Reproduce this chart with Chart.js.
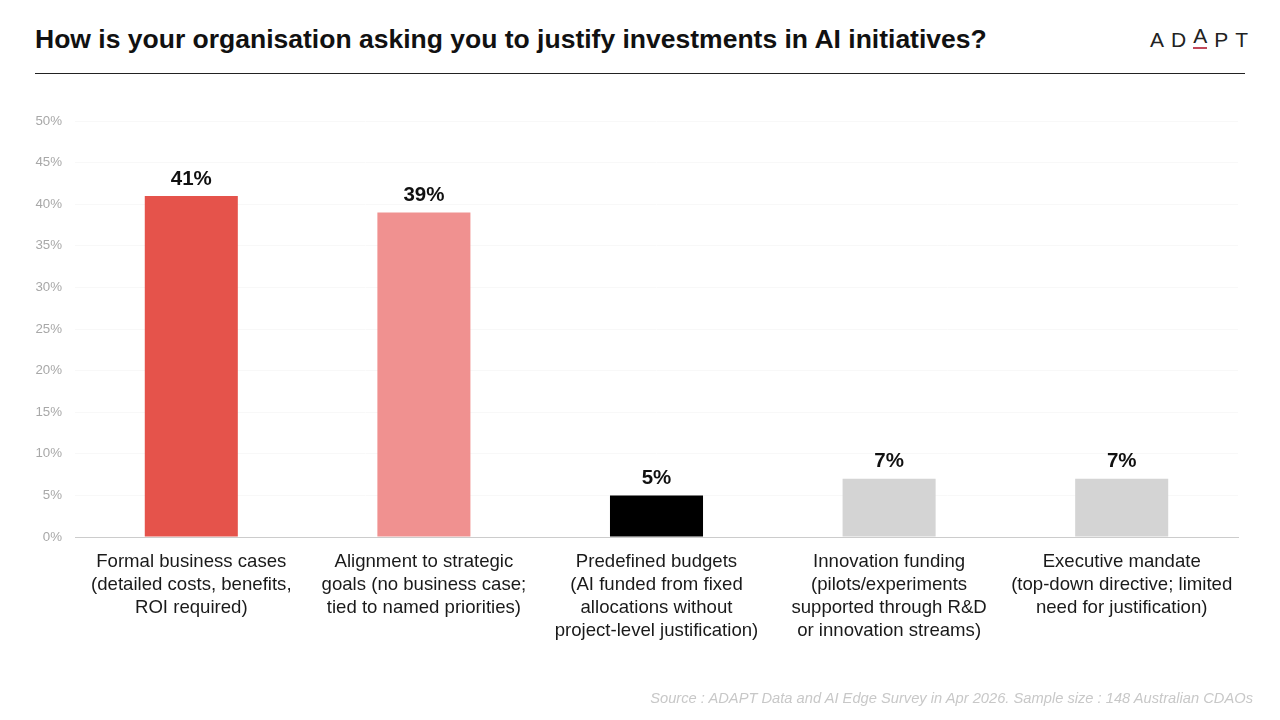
<!DOCTYPE html>
<html lang="en">
    <head>
        <meta charset="UTF-8" />
        <title>AI investment justification</title>
        <script src="https://cdn.jsdelivr.net/npm/chart.js"></script>
        <style>
            body {
                margin: 0;
                width: 1280px;
                height: 720px;
                background: #ffffff;
                font-family: 'Liberation Sans', Arial, sans-serif;
                position: relative;
                overflow: hidden;
            }

            h1 {
                position: absolute;
                left: 35px;
                top: 24px;
                margin: 0;
                font-size: 26.5px;
                font-weight: bold;
                color: #111;
            }

            .logo {
                position: absolute;
                left: 1150px;
                top: 28px;
                font-size: 21px;
                letter-spacing: 7px;
                color: #222;
            }

            .logo .mark {
                position: relative;
                top: -4px;
                border-bottom: 2px solid #c0485a;
                letter-spacing: 0;
                margin-right: 7px;
            }

            .rule {
                position: absolute;
                left: 35px;
                top: 73px;
                width: 1210px;
                border-top: 1.5px solid #222;
            }

            .source {
                position: absolute;
                right: 27px;
                top: 690px;
                font-size: 14.7px;
                font-style: italic;
                color: #c8c8c8;
            }

            .chart {
                position: absolute;
                left: 0;
                top: 0;
                width: 1280px;
                height: 720px;
            }
        </style>
    </head>
    <body>

        <h1>How is your organisation asking you to justify investments in AI initiatives?</h1>
        <div class="logo">AD<span class="mark">A</span>PT</div>
        <div class="rule"></div>

        <div class="chart"><canvas id="barChart"></canvas></div>

        <div class="source">Source : ADAPT Data and AI Edge Survey in Apr 2026. Sample size : 148 Australian CDAOs</div>

        <script>
	const categories = [
		['Formal business cases', '(detailed costs, benefits,', 'ROI required)'],
		['Alignment to strategic', 'goals (no business case;', 'tied to named priorities)'],
		['Predefined budgets', '(AI funded from fixed', 'allocations without', 'project-level justification)'],
		['Innovation funding', '(pilots/experiments', 'supported through R&D', 'or innovation streams)'],
		['Executive mandate', '(top-down directive; limited', 'need for justification)']
	];
	const shares = [41, 39, 5, 7, 7];
	const barColors = ['#e5534b', '#f09190', '#000000', '#d4d4d4', '#d4d4d4'];

	// value labels above the bars
	const valueLabels = {
		id: 'valueLabels',
		afterDatasetsDraw(chart) {
			const ctx = chart.ctx;
			const meta = chart.getDatasetMeta(0);
			ctx.save();
			ctx.font = 'bold 20.5px "Liberation Sans", Arial, sans-serif';
			ctx.fillStyle = '#111';
			ctx.textAlign = 'center';
			ctx.textBaseline = 'middle';
			meta.data.forEach((bar, i) => {
				ctx.fillText(shares[i] + '%', bar.x, bar.y - 17);
			});
			ctx.restore();
		}
	};

	new Chart(document.getElementById('barChart'), {
		type: 'bar',
		data: {
			labels: categories,
			datasets: [{
					data: shares,
					backgroundColor: barColors,
					barPercentage: 0.4,
					categoryPercentage: 1
				}]
		},
		options: {
			responsive: true,
			maintainAspectRatio: false,
			animation: false,
			layout: {padding: {top: 121, right: 42, left: 0, bottom: 0}},
			plugins: {
				legend: {display: false},
				tooltip: {enabled: false}
			},
			scales: {
				x: {
					afterFit: s => { s.height = 183; },
					grid: {display: false, drawTicks: false},
					border: {color: '#cccccc', width: 1},
					ticks: {
						padding: 13,
						color: '#1a1a1a',
						font: {family: '"Liberation Sans", Arial, sans-serif', size: 18.6, lineHeight: 1.24},
						maxRotation: 0,
						autoSkip: false
					}
				},
				y: {
					min: 0,
					max: 50,
					afterFit: s => { s.width = 75; },
					grid: {color: '#f8f8f8', drawTicks: false},
					border: {display: false},
					ticks: {
						stepSize: 5,
						padding: 13,
						color: '#a8a8a8',
						font: {family: '"Liberation Sans", Arial, sans-serif', size: 13.3},
						callback: v => v + '%'
					}
				}
			}
		},
		plugins: [valueLabels]
	});
        </script>
    </body>
</html>
